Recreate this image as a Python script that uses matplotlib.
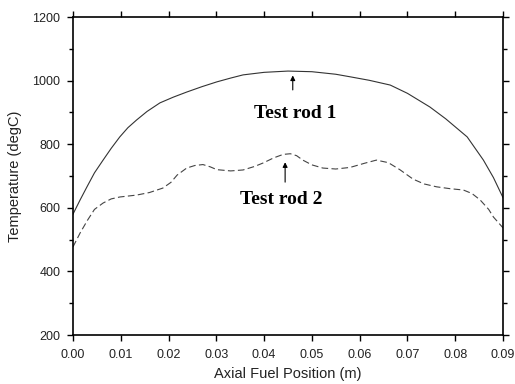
import numpy as np
import matplotlib
matplotlib.use("Agg")
import matplotlib.pyplot as plt
from matplotlib.ticker import MultipleLocator

# values
pos_rod1 = [0.0, 0.0015, 0.003, 0.0045, 0.0063, 0.008, 0.0098, 0.0115, 0.0133,
            0.0155, 0.0182, 0.021, 0.0238, 0.027, 0.0301, 0.033, 0.0356, 0.04,
            0.045, 0.05, 0.055, 0.058, 0.062, 0.0664, 0.07, 0.0747, 0.078,
            0.0825, 0.0859, 0.088, 0.09]
temp_rod1 = [580, 625, 668, 710, 750, 787, 823, 852, 876,
             903, 930, 948, 964, 981, 996, 1008, 1018, 1026,
             1030, 1028, 1020, 1012, 1001, 986, 960, 917, 880,
             823, 750, 695, 632]

pos_rod2 = [0.0, 0.0015, 0.003, 0.0045, 0.0063, 0.008, 0.0098, 0.0133, 0.016,
            0.0188, 0.0205, 0.0218, 0.0238, 0.0255, 0.0272, 0.0287, 0.0301,
            0.033, 0.0356, 0.038, 0.0398, 0.042, 0.044, 0.0455, 0.0468, 0.0481,
            0.05, 0.0523, 0.055, 0.058, 0.061, 0.0635, 0.066, 0.0684, 0.0712,
            0.0735, 0.0761, 0.079, 0.0817, 0.0835, 0.0852, 0.087, 0.088, 0.09]
temp_rod2 = [477, 521, 560, 595, 615, 628, 634, 640, 648,
             662, 680, 703, 725, 733, 736, 729, 720,
             716, 719, 730, 741, 757, 768, 770, 764, 750,
             735, 725, 722, 727, 740, 750, 742, 720, 690,
             675, 666, 660, 656, 645, 625, 595, 571, 537]

plt.rcParams['font.family'] = ['Liberation Sans', 'DejaVu Sans']

fig = plt.figure(figsize=(5.15, 3.84), dpi=100)
ax = fig.add_axes([0.1417, 0.1276, 0.835, 0.8281])

ax.plot(pos_rod1, temp_rod1, color='#333333', linewidth=0.8, linestyle='-')
ax.plot(pos_rod2, temp_rod2, color='#444444', linewidth=0.8, linestyle=(0, (6, 3)))

ax.axis([0, 0.09, 200, 1200])
ax.xaxis.set_major_locator(MultipleLocator(0.01))
ax.yaxis.set_major_locator(MultipleLocator(200))
ax.yaxis.set_minor_locator(MultipleLocator(100))
ax.xaxis.set_major_formatter(lambda v, p: f"{v:.2f}")

ax.tick_params(which='both', direction='out', top=True, right=True,
               labelsize=9, labelcolor='#222222', width=1)
ax.tick_params(which='major', length=4)
ax.tick_params(axis='x', which='major', pad=6)
ax.tick_params(axis='y', which='major', pad=5)
ax.tick_params(which='minor', length=3)
for s in ax.spines.values():
    s.set_linewidth(1.2)

ax.set_xlabel('Axial Fuel Position (m)', fontsize=10.5, color='#222222')
ax.set_ylabel('Temperature (degC)', fontsize=10.5, color='#222222')
ax.xaxis.set_label_coords(0.5, -0.10)
ax.yaxis.set_label_coords(-0.119, 0.5)

ax.annotate('', xy=(0.046, 1025), xytext=(0.046, 962),
            arrowprops=dict(arrowstyle='-|>', color='black', lw=0.8, mutation_scale=7))
ax.text(0.0465, 898, 'Test rod 1', ha='center', va='center',
        family='Liberation Serif', fontweight='bold', fontsize=14)

ax.annotate('', xy=(0.0444, 752), xytext=(0.0444, 672),
            arrowprops=dict(arrowstyle='-|>', color='black', lw=0.8, mutation_scale=7))
ax.text(0.0435, 625, 'Test rod 2', ha='center', va='center',
        family='Liberation Serif', fontweight='bold', fontsize=14)

fig.savefig("out.png")
